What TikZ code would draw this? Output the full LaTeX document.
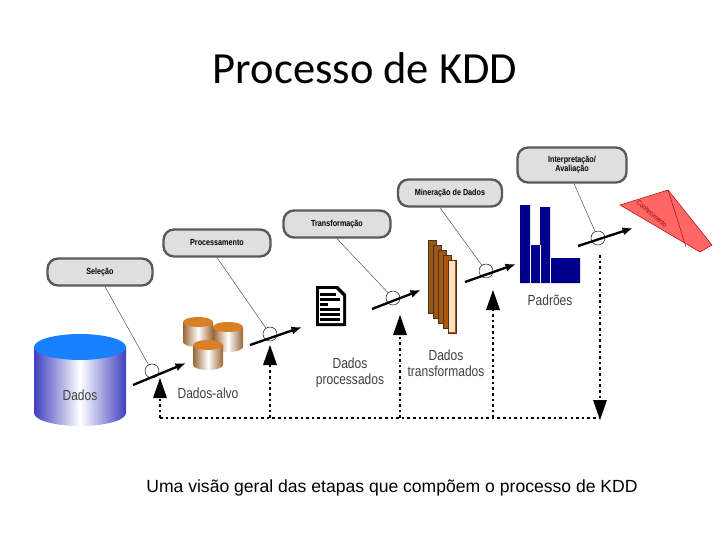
\documentclass[tikz,border=0pt]{standalone}
\usepackage{fontspec}
\setmainfont{Carlito}
\newfontfamily\arialn[FakeStretch=0.82]{Liberation Sans}
\usetikzlibrary{arrows.meta,positioning,calc,shapes.geometric}
\tikzset{
  etapa/.style={rounded corners=9pt,draw=gray!70!black,line width=2pt,fill=gray!25,
    minimum height=27*0.03cm,inner sep=1pt,font=\arialn\bfseries\fontsize{7.5}{8}\selectfont,align=center},
  haste/.style={gray!60!black,thin},
  anel/.style={circle,draw,thin,minimum size=14*0.03cm,inner sep=0pt},
  fluxo/.style={-{Latex[length=9pt,width=7pt]},line width=2pt},
  volta/.style={line width=2.2pt,dash pattern=on 2.2pt off 2.6pt},
  rotulo/.style={font=\arialn\fontsize{12.5}{14}\selectfont,text=gray!50!black,align=center,inner sep=0pt},
  pics/tambor/.style n args={5}{code={
    \shade[left color=#4,right color=#4,middle color=white] (-#1,0) -- (-#1,#2)
      arc[start angle=180,end angle=360,x radius=#1,y radius=-#3] -- (#1,0) -- cycle;
    \fill[#5] (0,0) ellipse[x radius=#1,y radius=#3];
  }},
}
\begin{document}
\begin{tikzpicture}[x=0.03cm,y=-0.03cm]
\useasboundingbox (0,0) rectangle (728,546);
\node (titulo) at (365,68) {\fontsize{38}{42}\selectfont Processo de KDD};
\node (legenda) at (392,488) {\fontspec{Liberation Sans}\fontsize{15}{18}\selectfont Uma visão geral das etapas que compõem o processo de KDD};

% Dados
\pic at (80,347) {tambor={46}{66}{13}{blue!50!gray}{blue!55!cyan!90!white}};
\node[rotulo] (dados) at (80,395) {Dados};

% Dados-alvo
\foreach \cx/\cy in {198/322,228/327,208/345}
  \pic at (\cx,\cy) {tambor={15}{20}{5}{brown!80!black}{brown!60!orange}};
\node[rotulo] (alvo) at (208,393) {Dados-alvo};

% documento
\fill[black] (316,286) -- (338,286) -- (346,294) -- (346,326) -- (316,326) -- cycle;
\fill[white] (319,289) -- (336,289) -- (343,296) -- (343,323) -- (319,323) -- cycle;
\foreach \ly/\lx in {293/336,298/340,303/328,308/340,313/340,318/340}
  \fill[black] (320,\ly) rectangle (\lx,\ly+3);
\node[rotulo] (proc) at (350,373) {Dados\\processados};

% dados transformados
\foreach \i/\c in {0/35,1/50,2/65,3/80,4/95}
  \filldraw[draw=brown!40!black,fill=orange!\c!brown!70!black] (428+\i*5,240+\i*5) rectangle (436+\i*5,313+\i*5);
\fill[orange!25!white] (449,261) rectangle (455,332);
\node[rotulo] (transf) at (446,363) {Dados\\transformados};

% Padrões
\fill[blue!55!black] (520,205) rectangle (530,283) (530,245) rectangle (540,283)
  (540,207) rectangle (550,283) (550,258) rectangle (580,283);
\draw[white,thin] (530,245) -- (530,283) (540,245) -- (540,283) (550,258) -- (550,283);
\node[rotulo] (padroes) at (550,300) {Padrões};

% Conhecimento
\fill[red!60!white,draw=red!70!black] (620,205) -- (668,190) -- (712,245) -- (700,252) -- cycle;
\draw[red!70!black] (668,190) -- (686,247);
\node[rotate=-40,font=\arialn\fontsize{6}{7}\selectfont,text=red!60!black,inner sep=0pt] (conh) at (652,214) {Conhecimento};

% etapas
\node[etapa,minimum width=105*0.03cm] (selecao) at (100,272) {Seleção};
\node[etapa,minimum width=107*0.03cm] (processamento) at (217,243) {Processamento};
\node[etapa,minimum width=107*0.03cm] (transformacao) at (337,224) {Transformação};
\node[etapa,minimum width=104*0.03cm] (mineracao) at (450,193) {Mineração de Dados};
\node[etapa,minimum width=109*0.03cm,minimum height=35*0.03cm] (interp) at (572,165) {Interpretação/\\Avaliação};

\node[anel] (a1) at (152,371) {};
\node[anel] (a2) at (270,334) {};
\node[anel] (a3) at (393,298) {};
\node[anel] (a4) at (486,271) {};
\node[anel] (a5) at (598,238) {};
\draw[haste] (selecao.south) ++(5,0) -- (a1);
\draw[haste] (processamento.south) -- (a2);
\draw[haste] (transformacao.south) -- (a3);
\draw[haste] (mineracao.south) ++(-10,0) -- (a4);
\draw[haste] (interp.south) ++(2,0) -- (a5);

\draw[fluxo] (133,385) -- (186,363);
\draw[fluxo] (250,345) -- (302,327);
\draw[fluxo] (372,309) -- (421,290);
\draw[fluxo] (465,282) -- (516,264);
\draw[fluxo] (578,246) -- (633,228);

% retorno
\coordinate (r0) at (160,418);
\coordinate (r4) at (600,418);
\draw[volta] (r0) -- (r4);
\draw[volta] (600,255) -- (600,405);
\foreach \x/\t in {160/378,270/345,400/315,493/290}{
  \draw[volta] (\x,418) -- (\x,\t+12);
  \fill (\x,\t) -- (\x+7,\t+20) -- (\x-7,\t+20) -- cycle;
}
\fill (600,420) -- (607,400) -- (593,400) -- cycle;
\end{tikzpicture}
\end{document}
